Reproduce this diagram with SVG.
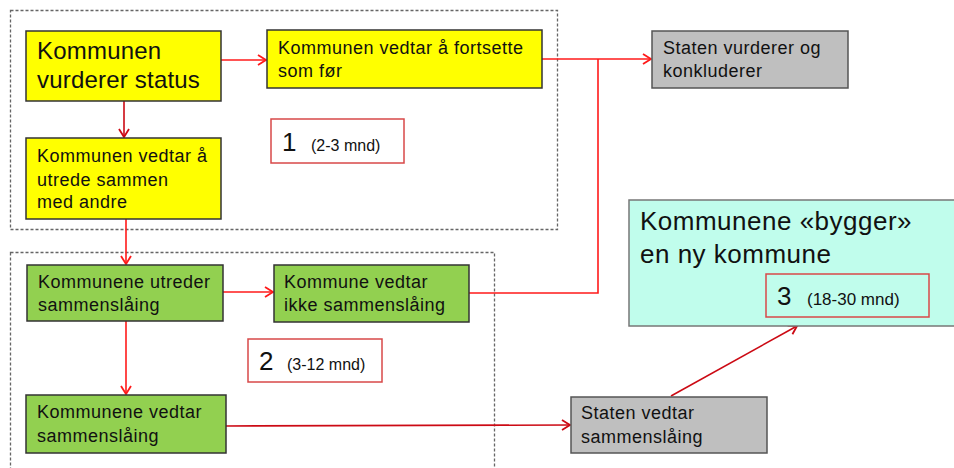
<svg xmlns="http://www.w3.org/2000/svg" width="954" height="468" viewBox="0 0 954 468">
<defs>
<style>
text{font-family:"Liberation Sans",Arial,sans-serif;fill:#111}
.t{font-size:18px;letter-spacing:0.5px}
.big{font-size:24px;letter-spacing:0.2px}
.huge{font-size:26px;letter-spacing:0.5px}
.num{font-size:26px}
.sm{font-size:16px}
.yel{fill:#ffff00;stroke:#333;stroke-width:1.5}
.grn{fill:#92d050;stroke:#333;stroke-width:1.5}
.gry{fill:#bfbfbf;stroke:#555;stroke-width:1.5}
.cyn{fill:#c0fdec;stroke:#777;stroke-width:1.5}
.lab{fill:none;stroke:#d84848;stroke-width:1.5}
.dash{fill:none;stroke:#666;stroke-width:1.3;stroke-dasharray:3 2}
.c{fill:none;stroke:#ff1a1a;stroke-width:1.6}
.cd{fill:none;stroke:#cc0a14;stroke-width:1.6}
</style>
<marker id="ar" markerUnits="userSpaceOnUse" markerWidth="14" markerHeight="14" refX="11" refY="7" orient="auto">
<path d="M3,2 L11,7 L3,12" fill="none" stroke="#ff1a1a" stroke-width="1.8"/>
</marker>
<marker id="ard" markerUnits="userSpaceOnUse" markerWidth="14" markerHeight="14" refX="11" refY="7" orient="auto">
<path d="M3,2 L11,7 L3,12" fill="none" stroke="#cc0a14" stroke-width="1.8"/>
</marker>
</defs>
<rect width="954" height="468" fill="#fff"/>

<g id="phase1"><rect class="dash" x="10.5" y="10.5" width="547" height="219"/></g>
<g id="phase2"><rect class="dash" x="10.5" y="252.5" width="484" height="230"/></g>

<g id="connectors">
<line class="c" x1="221" y1="60" x2="266" y2="60" marker-end="url(#ar)"/>
<line class="cd" x1="124" y1="101" x2="124" y2="137" marker-end="url(#ard)"/>
<line class="c" x1="126" y1="219" x2="126" y2="264" marker-end="url(#ar)"/>
<line class="c" x1="542" y1="59" x2="651" y2="59" marker-end="url(#ar)"/>
<polyline class="c" points="469,293 598,293 598,59"/>
<line class="c" x1="223" y1="292" x2="273" y2="292" marker-end="url(#ar)"/>
<line class="c" x1="126" y1="321" x2="126" y2="394" marker-end="url(#ar)"/>
<line class="cd" x1="226" y1="426" x2="570" y2="425" marker-end="url(#ard)"/>
<line class="cd" x1="671" y1="396" x2="797" y2="326" marker-end="url(#ard)"/>
</g>

<g id="n1">
<rect class="yel" x="26" y="31" width="195" height="70"/>
<text class="big" x="37" y="59">Kommunen</text>
<text class="big" x="37" y="88">vurderer status</text>
</g>
<g id="n2">
<rect class="yel" x="267" y="30" width="275" height="58"/>
<text class="t" x="278" y="54">Kommunen vedtar å fortsette</text>
<text class="t" x="278" y="77">som før</text>
</g>
<g id="n3">
<rect class="yel" x="26" y="138" width="195" height="81"/>
<text class="t" x="37" y="162">Kommunen vedtar å</text>
<text class="t" x="37" y="186">utrede sammen</text>
<text class="t" x="37" y="208">med andre</text>
</g>
<g id="label1">
<rect class="lab" x="271" y="119" width="133" height="44" fill="#fff"/>
<text class="num" x="282" y="151">1</text>
<text class="sm" x="311" y="151">(2-3 mnd)</text>
</g>
<g id="n4">
<rect class="gry" x="652" y="31" width="196" height="57"/>
<text class="t" x="663" y="54">Staten vurderer og</text>
<text class="t" x="663" y="77">konkluderer</text>
</g>
<g id="n5">
<rect class="grn" x="27" y="265" width="196" height="56"/>
<text class="t" x="38" y="288">Kommunene utreder</text>
<text class="t" x="38" y="311">sammenslåing</text>
</g>
<g id="n6">
<rect class="grn" x="274" y="265" width="195" height="57"/>
<text class="t" x="284" y="288">Kommune vedtar</text>
<text class="t" x="284" y="311">ikke sammenslåing</text>
</g>
<g id="label2">
<rect class="lab" x="248" y="339" width="134" height="43" fill="#fff"/>
<text class="num" x="259" y="370">2</text>
<text class="sm" x="287" y="370">(3-12 mnd)</text>
</g>
<g id="n7">
<rect class="grn" x="26" y="395" width="200" height="58"/>
<text class="t" x="37" y="418">Kommunene vedtar</text>
<text class="t" x="37" y="442">sammenslåing</text>
</g>
<g id="n8">
<rect class="gry" x="571" y="397" width="196" height="56"/>
<text class="t" x="581" y="419">Staten vedtar</text>
<text class="t" x="581" y="443">sammenslåing</text>
</g>
<g id="n9">
<rect class="cyn" x="629" y="200" width="330" height="126"/>
<text class="huge" x="640" y="230">Kommunene «bygger»</text>
<text class="huge" x="640" y="263">en ny kommune</text>
<rect class="lab" x="766" y="274" width="163" height="43"/>
<text class="num" x="777" y="305">3</text>
<text class="sm" x="807" y="305" style="font-size:17px">(18-30 mnd)</text>
</g>
</svg>
